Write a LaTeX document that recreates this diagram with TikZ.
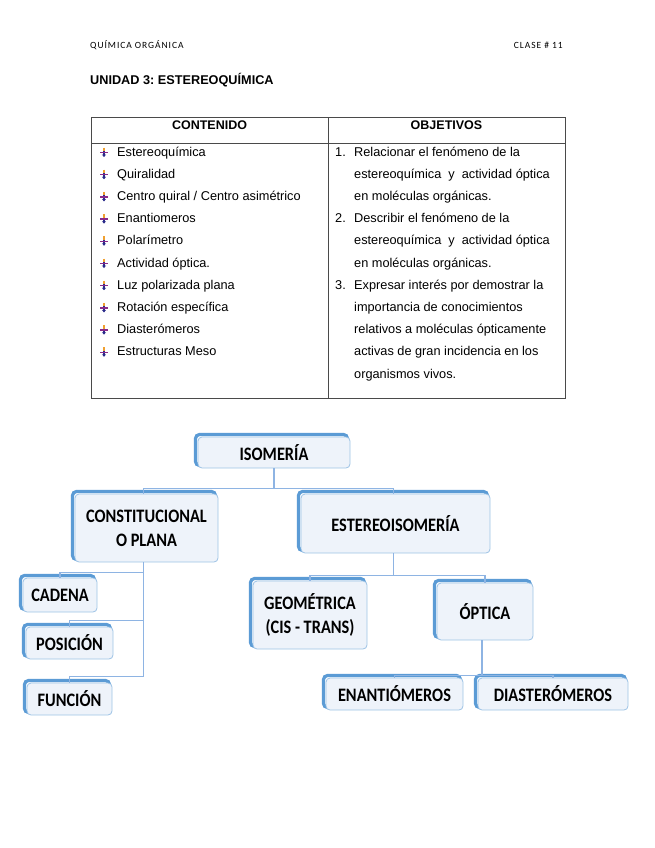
\documentclass[tikz,border=0pt]{standalone}
\usepackage{fontspec}
\setmainfont{Liberation Sans}
\newfontfamily\mapfont[FakeStretch=0.86]{Carlito}
\newfontfamily\headfont[LetterSpace=10]{Carlito}
\usetikzlibrary{arrows.meta, positioning}
\definecolor{mapblue}{HTML}{5B9BD5}
\definecolor{mapedge}{HTML}{9DC3E6}
\definecolor{mapfill}{HTML}{EEF3FA}
\definecolor{linkblue}{HTML}{8EB4E3}
\definecolor{rulegray}{HTML}{4A4A4A}
\definecolor{bulorange}{HTML}{F0A030}
\definecolor{bulpurple}{HTML}{8A2A8A}
\definecolor{bulnavy}{HTML}{2A2A8A}
\frenchspacing

\begin{document}
\begin{tikzpicture}[x=1pt, y=-1pt,
    mapbox/.style={draw=mapedge, line width=0.8pt, fill=mapfill, rounded corners=4pt,
      inner sep=0pt, align=center, font=\mapfont\bfseries\fontsize{19}{24}\selectfont,
      preaction={draw=mapblue, line width=3.2pt, transform canvas={shift={(-2.5pt,2.5pt)}}}},
    link/.style={draw=linkblue, line width=1.2pt},
    item/.style={inner sep=0pt, anchor=base west, font=\fontsize{12.75}{15}\selectfont},
    headcell/.style={inner sep=0pt, anchor=base, font=\bfseries\fontsize{12.5}{14}\selectfont}]
  \useasboundingbox (0,0) rectangle (655,848);
  % ---------- page header ----------
  \node[inner sep=0pt, anchor=base west, font=\headfont\fontsize{9.5}{11}\selectfont]
    (curso) at (90,49) {QUÍMICA ORGÁNICA};
  \node[inner sep=0pt, anchor=base east, font=\headfont\fontsize{9.5}{11}\selectfont]
    (clase) at (563,49) {CLASE \# 11};
  \node[inner sep=0pt, anchor=base west, font=\bfseries\fontsize{12.7}{15}\selectfont]
    (unidad) at (90,85) {UNIDAD 3: ESTEREOQUÍMICA};
  % ---------- table ----------
  \draw[rulegray, line width=1pt] (91,118) rectangle (565,398);
  \draw[rulegray, line width=1pt] (91,143) -- (565,143);
  \draw[rulegray, line width=1pt] (328,118) -- (328,398);
  \node[headcell] (contenido) at (209.5,129.5) {CONTENIDO};
  \node[headcell] (objetivos) at (446.5,129.5) {OBJETIVOS};
  \foreach \i/\txt in {0/Estereoquímica, 1/Quiralidad, 2/{Centro quiral / Centro asimétrico},
      3/Enantiomeros, 4/Polarímetro, 5/Actividad óptica., 6/Luz polarizada plana,
      7/Rotación específica, 8/Diasterómeros, 9/Estructuras Meso}
  {
    \node[item] (cont\i) at (117,156+22.2*\i) {\txt};
    % bullet icon
    \draw[bulorange, line width=1.2pt] (104,147.5+22.2*\i) -- (104,151+22.2*\i);
    \draw[bulnavy, line width=1.2pt, -{Stealth[length=2.5pt,width=4pt]}] (104,151+22.2*\i) -- (104,157+22.2*\i);
    \draw[bulpurple, line width=1.3pt] (100,152.5+22.2*\i) -- (108,152.5+22.2*\i);
  }
  \foreach \i/\num in {0/1., 3/2., 6/3.}
    \node[item] (num\i) at (335,156+22.2*\i) {\num};
  \foreach \i/\txt in {0/Relacionar el fenómeno de la, 1/estereoquímica\ \ y\ \ actividad óptica,
      2/en moléculas orgánicas., 3/Describir el fenómeno de la,
      4/estereoquímica\ \ y\ \ actividad óptica, 5/en moléculas orgánicas.,
      6/Expresar interés por demostrar la, 7/importancia de conocimientos,
      8/relativos a moléculas ópticamente, 9/activas de gran incidencia en los,
      10/organismos vivos.}
    \node[item] (obj\i) at (354,156+22.2*\i) {\txt};
  % ---------- concept map ----------
  \node[mapbox, minimum width=152, minimum height=31] (iso) at (274,452.5) {ISOMERÍA};
  \node[mapbox, minimum width=143, minimum height=68] (cons) at (146.5,528) {CONSTITUCIONAL\\O PLANA};
  \node[mapbox, minimum width=189, minimum height=59] (ester) at (395.5,523.5) {ESTEREOISOMERÍA};
  \node[mapbox, minimum width=74, minimum height=34] (cad) at (60,595) {CADENA};
  \node[mapbox, minimum width=87, minimum height=32] (pos) at (69.5,643) {POSICIÓN};
  \node[mapbox, minimum width=85, minimum height=32] (fun) at (69.5,699) {FUNCIÓN};
  \node[mapbox, minimum width=114, minimum height=68] (geo) at (310,615) {GEOMÉTRICA\\(CIS - TRANS)};
  \node[mapbox, minimum width=96, minimum height=57] (opt) at (485,611.5) {ÓPTICA};
  \node[mapbox, minimum width=137, minimum height=32] (ena) at (394.5,694) {ENANTIÓMEROS};
  \node[mapbox, minimum width=150, minimum height=32] (dia) at (553,694) {DIASTERÓMEROS};
  % connectors
  \draw[link] (iso.south) -- ++(0,20) coordinate (isoj);
  \draw[link] (isoj) -| ([xshift=-3pt]cons.north);
  \draw[link] (isoj) -| ([xshift=-2pt]ester.north);
  \draw[link] ([xshift=-3pt]cons.south) |- ([yshift=5pt]cad.north) -- (cad.north);
  \draw[link] ([xshift=-3pt]cons.south) |- ([yshift=6pt]pos.north) -- (pos.north);
  \draw[link] ([xshift=-3pt]cons.south) |- ([yshift=6pt]fun.north) -- (fun.north);
  \draw[link] ([xshift=-2pt]ester.south) -- ++(0,22) coordinate (esterj);
  \draw[link] (esterj) -| (geo.north);
  \draw[link] (esterj) -| (opt.north);
  \draw[link] ([xshift=-3pt]opt.south) -- ++(0,35) coordinate (optj);
  \draw[link] (optj) -| (ena.north);
  \draw[link] (optj) -| (dia.north);
\end{tikzpicture}
\end{document}
